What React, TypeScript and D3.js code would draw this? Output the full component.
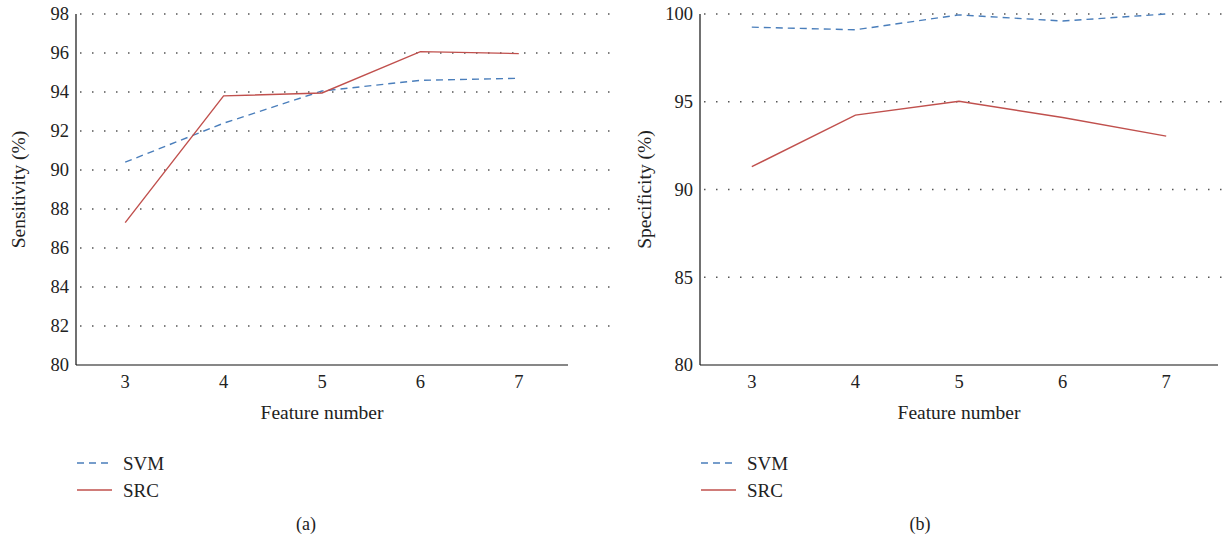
import React from "react";
import * as d3 from "d3";

const features = [3, 4, 5, 6, 7];
const sensSVM = [90.4, 92.4, 94.05, 94.6, 94.7];
const sensSRC = [87.3, 93.8, 93.95, 96.07, 95.97];
const specSVM = [99.25, 99.1, 99.95, 99.6, 100];
const specSRC = [91.3, 94.24, 95.03, 94.1, 93.04];
const sensTicks = [80, 82, 84, 86, 88, 90, 92, 94, 96, 98];
const specTicks = [80, 85, 90, 95, 100];

const FONT = "Liberation Serif, DejaVu Serif, Times New Roman, serif";
const BLUE = "#4a7ebb";
const RED = "#c0504d";

type PanelProps = {
  x0: number;
  x1: number;
  gridEnd: number;
  yDomain: [number, number];
  ticks: number[];
  svm: number[];
  src: number[];
  yLabel: string;
  tag: string;
  tagX: number;
  labelX: number;
};

function Panel(p: PanelProps) {
  const top = 14;
  const bottom = 365;
  const x = d3.scaleLinear().domain([2.5, 7.5]).range([p.x0, p.x1]);
  const y = d3.scaleLinear().domain(p.yDomain).range([bottom, top]);
  const line = d3
    .line<number>()
    .x((_, i) => x(features[i]))
    .y((d) => y(d));
  const cx = (p.x0 + p.x1) / 2;
  return (
    <g style={{ fontFamily: FONT }} fill="#222">
      {p.ticks.map((t) => (
        <g key={t}>
          {t !== p.yDomain[0] && (
            <line
              x1={p.x0 + 4}
              x2={p.gridEnd}
              y1={y(t)}
              y2={y(t)}
              stroke="#555"
              strokeWidth={1.5}
              strokeDasharray="1.5,10.5"
            />
          )}
          <text x={p.x0 - 7} y={y(t)} dy="0.35em" textAnchor="end" fontSize={18.5}>
            {t}
          </text>
        </g>
      ))}
      <line x1={p.x0} x2={p.x0} y1={top} y2={bottom} stroke="#111" strokeWidth={1.2} />
      <line x1={p.x0} x2={p.x1} y1={bottom} y2={bottom} stroke="#111" strokeWidth={1.2} />
      {features.map((f) => (
        <text key={f} x={x(f)} y={bottom + 23} textAnchor="middle" fontSize={18.5}>
          {f}
        </text>
      ))}
      <text x={cx} y={419} textAnchor="middle" fontSize={19.5}>
        Feature number
      </text>
      <text
        transform={`translate(${p.labelX},${(top + bottom) / 2}) rotate(-90)`}
        textAnchor="middle"
        fontSize={19.5}
      >
        {p.yLabel}
      </text>
      <path d={line(p.svm) || ""} fill="none" stroke={BLUE} strokeWidth={1.4} strokeDasharray="7,5" />
      <path d={line(p.src) || ""} fill="none" stroke={RED} strokeWidth={1.4} />
      <line x1={p.x0 + 1} x2={p.x0 + 36} y1={463} y2={463} stroke={BLUE} strokeWidth={1.4} strokeDasharray="7,5" />
      <text x={p.x0 + 47} y={463} dy="0.35em" fontSize={19}>
        SVM
      </text>
      <line x1={p.x0 + 1} x2={p.x0 + 36} y1={490} y2={490} stroke={RED} strokeWidth={1.4} />
      <text x={p.x0 + 47} y={490} dy="0.35em" fontSize={19}>
        SRC
      </text>
      <text x={p.tagX} y={524} dy="0.35em" textAnchor="middle" fontSize={18}>
        {p.tag}
      </text>
    </g>
  );
}

export default function App() {
  return (
    <svg
      width={1223}
      height={539}
      style={{ position: "absolute", left: 0, top: 0, background: "#fff" }}
    >
      <Panel
        x0={76}
        x1={568}
        gridEnd={610}
        yDomain={[80, 98]}
        ticks={sensTicks}
        svm={sensSVM}
        src={sensSRC}
        yLabel="Sensitivity (%)"
        tag="(a)"
        tagX={306}
        labelX={25}
      />
      <Panel
        x0={700}
        x1={1218}
        gridEnd={1222}
        yDomain={[80, 100]}
        ticks={specTicks}
        svm={specSVM}
        src={specSRC}
        yLabel="Specificity (%)"
        tag="(b)"
        tagX={920}
        labelX={651}
      />
    </svg>
  );
}
